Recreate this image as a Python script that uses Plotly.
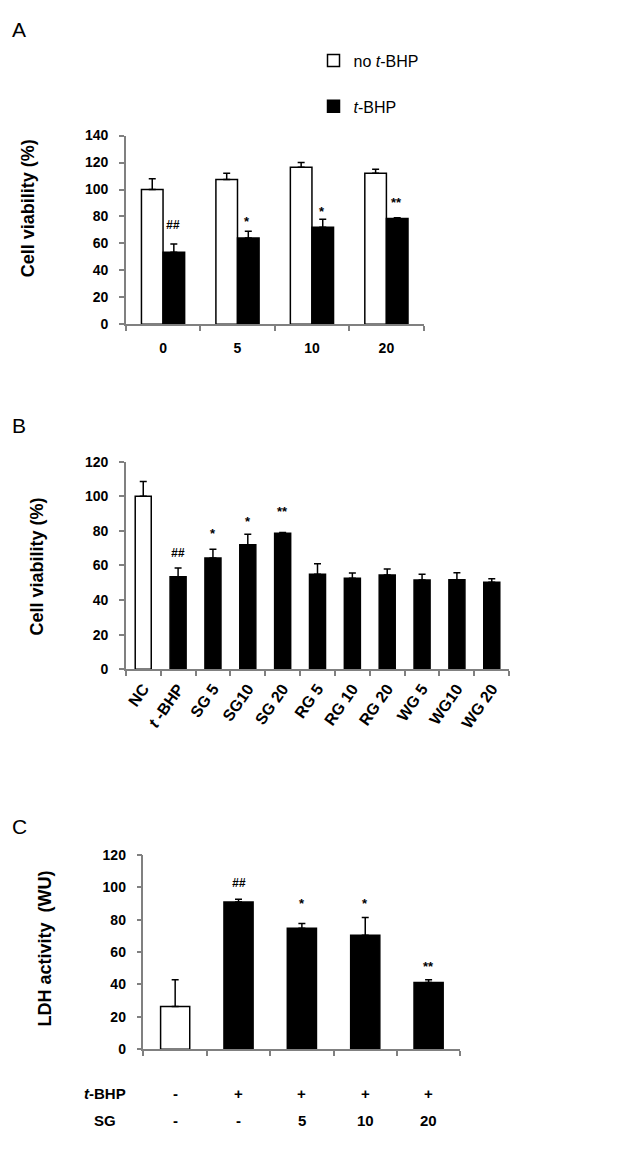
import plotly.graph_objects as go

# panel A: cell viability vs SG dose, with / without t-BHP
doses = ["d0", "d5", "d10", "d20"]
dose_labels = ["0", "5", "10", "20"]
no_tbhp = [100, 107.5, 116.5, 112]
no_tbhp_err = [8, 4.5, 3.5, 3]
tbhp = [53.5, 64, 72, 78.5]
tbhp_err = [6, 5, 6, 0.5]
marks_a = ["##", "*", "*", "**"]
mark_y_a = [73.5, 79.5, 86.5, 93.5]

# panel B: cell viability for each extract
groups_b = ["NC", "tBHP", "SG5", "SG10", "SG20", "RG5", "RG10", "RG20", "WG5", "WG10", "WG20"]
labels_b = ["NC", "<i>t</i> -BHP", "SG 5", "SG10", "SG 20", "RG 5", "RG 10", "RG 20", "WG 5", "WG10", "WG 20"]
viab_b = [100, 53.5, 64.4, 72, 78.6, 55, 52.6, 54.5, 51.6, 51.8, 50.3]
err_b = [8.5, 5, 5, 6, 0.5, 6, 3, 3.5, 3.3, 4, 2]
marks_b = ["", "##", "*", "*", "**", "", "", "", "", "", ""]
mark_y_b = [0, 67, 81, 87.7, 93.4, 0, 0, 0, 0, 0, 0]

# panel C: LDH activity
groups_c = ["c1", "c2", "c3", "c4", "c5"]
ldh = [26.4, 90.9, 74.7, 70.4, 41.2]
ldh_err = [16.5, 1.7, 3, 11, 1.7]
tbhp_row = ["-", "+", "+", "+", "+"]
sg_row = ["-", "-", "5", "10", "20"]
marks_c = ["", "##", "*", "*", "**"]
mark_y_c = [0, 103, 92.6, 92.6, 53.8]

FONT = "Liberation Sans, Arial, sans-serif"
AX = "#808080"

# the page body keeps its 8px margin, so the figure is 16px smaller than the window
W, H, M = 624, 1135, 8

def fx(px):
    return (px - M) / W

def fy(py):
    return 1 - (py - M) / H

def colors(n_white, n):
    return ["white"] * n_white + ["black"] * (n - n_white)

def err(vals):
    return dict(type="data", array=vals, arrayminus=[0] * len(vals), symmetric=False,
                color="black", thickness=1.5, width=3.5)

fig = go.Figure()

fig.add_trace(go.Bar(x=doses, y=no_tbhp, name="no <i>t</i>-BHP", legendgroup="a",
                     width=0.29, offset=-0.29,
                     marker=dict(color="white", line=dict(color="black", width=1.5)),
                     error_y=err(no_tbhp_err), xaxis="x", yaxis="y"))
fig.add_trace(go.Bar(x=doses, y=tbhp, name="<i>t</i>-BHP", legendgroup="b",
                     width=0.29, offset=0,
                     marker=dict(color="black", line=dict(color="black", width=1.5)),
                     error_y=err(tbhp_err), xaxis="x", yaxis="y"))

fig.add_trace(go.Bar(x=groups_b, y=viab_b, showlegend=False, width=0.46,
                     marker=dict(color=colors(1, len(groups_b)), line=dict(color="black", width=1.5)),
                     error_y=err(err_b), xaxis="x2", yaxis="y2"))

fig.add_trace(go.Bar(x=groups_c, y=ldh, showlegend=False, width=0.46,
                     marker=dict(color=colors(1, len(groups_c)), line=dict(color="black", width=1.5)),
                     error_y=err(ldh_err), xaxis="x3", yaxis="y3"))

xcommon = dict(type="category", showline=True, linecolor=AX, linewidth=1.5, ticks="outside",
               tickson="boundaries", ticklen=5, tickcolor=AX, tickwidth=1.5, showgrid=False,
               tickfont=dict(family=FONT, size=14, color="black", weight="bold"))
ycommon = dict(showline=True, linecolor=AX, linewidth=1.5, ticks="outside", ticklen=5,
               tickcolor=AX, tickwidth=1.5, showgrid=False, zeroline=False, dtick=20,
               tickfont=dict(family=FONT, size=14, color="black", weight="bold"),
               ticklabelstandoff=8)

fig.update_layout(
    width=W, height=H, margin=dict(l=0, r=0, t=0, b=0),
    paper_bgcolor="white", plot_bgcolor="white", barmode="overlay",
    showlegend=True,
    legend=dict(x=fx(313), y=fy(36), xanchor="left", yanchor="top", tracegroupgap=22,
                font=dict(family=FONT, size=16, color="black"), bgcolor="rgba(0,0,0,0)"),
    xaxis=dict(xcommon, domain=[fx(125), fx(423.3)], anchor="y", ticklabelstandoff=10,
               tickvals=doses, ticktext=dose_labels),
    yaxis=dict(ycommon, domain=[fy(320.7), fy(129.3)], range=[0, 140], anchor="x"),
    xaxis2=dict(xcommon, domain=[fx(125), fx(509)], anchor="y2", tickangle=-55,
                tickvals=groups_b, ticktext=labels_b, ticklabelstandoff=2,
                tickfont=dict(family=FONT, size=16, color="black", weight="bold")),
    yaxis2=dict(ycommon, domain=[fy(670.7), fy(460)], range=[0, 120], anchor="x2"),
    xaxis3=dict(xcommon, domain=[fx(142.7), fx(460)], anchor="y3", showticklabels=False),
    yaxis3=dict(ycommon, domain=[fy(1056), fy(859)], range=[0, 120], anchor="x3"),
)

ann = []
for lab, yy in [("A", 22), ("B", 423), ("C", 830)]:
    ann.append(dict(text=lab, x=fx(9), y=fy(yy), xref="paper", yref="paper",
                    xanchor="left", yanchor="middle", showarrow=False,
                    font=dict(family=FONT, size=21, color="black")))

# y axis titles (panel A's sits above the middle of its axis)
tfont = dict(family=FONT, size=18, color="black", weight="bold")
for txt, cx, cy in [("Cell viability (%)", 27, 203),
                    ("Cell viability (%)", 36, 566.5),
                    ("LDH activity  (WU)", 44.5, 953.5)]:
    ann.append(dict(text=txt, x=fx(cx), y=fy(cy), xref="paper", yref="paper",
                    xanchor="center", yanchor="middle", textangle=-90,
                    showarrow=False, font=tfont))

def mark(t, x, y, xr, yr, xshift=0):
    star = "*" in t
    return dict(text=t if star else "<i>" + t + "</i>", x=x, y=y, xref=xr, yref=yr,
                xshift=xshift, yshift=-4 if star else 0, showarrow=False,
                xanchor="center", yanchor="middle",
                font=dict(family=FONT, size=13 if star else 12, color="black", weight="bold"))

for d, t, yv in zip(doses, marks_a, mark_y_a):
    ann.append(mark(t, d, yv, "x", "y", xshift=10))
for g, t, yv in zip(groups_b, marks_b, mark_y_b):
    if t:
        ann.append(mark(t, g, yv, "x2", "y2"))
for g, t, yv in zip(groups_c, marks_c, mark_y_c):
    if t:
        ann.append(mark(t, g, yv, "x3", "y3"))

# treatment table under panel C
row_font = dict(family=FONT, size=15, color="black", weight="bold")
for g, a, b in zip(groups_c, tbhp_row, sg_row):
    ann.append(dict(text=a, x=g, y=fy(1100.7), xref="x3", yref="paper", yanchor="middle",
                    showarrow=False, font=row_font))
    ann.append(dict(text=b, x=g, y=fy(1128.3), xref="x3", yref="paper", yanchor="middle",
                    showarrow=False, font=row_font))
ann.append(dict(text="<i>t</i>-BHP", x=fx(127), y=fy(1100.7), xref="paper", yref="paper",
                xanchor="right", yanchor="middle", showarrow=False, font=row_font))
ann.append(dict(text="SG", x=fx(117), y=fy(1128.3), xref="paper", yref="paper",
                xanchor="right", yanchor="middle", showarrow=False, font=row_font))

fig.update_layout(annotations=ann)
fig.write_html("out.html", config={"displayModeBar": False})
